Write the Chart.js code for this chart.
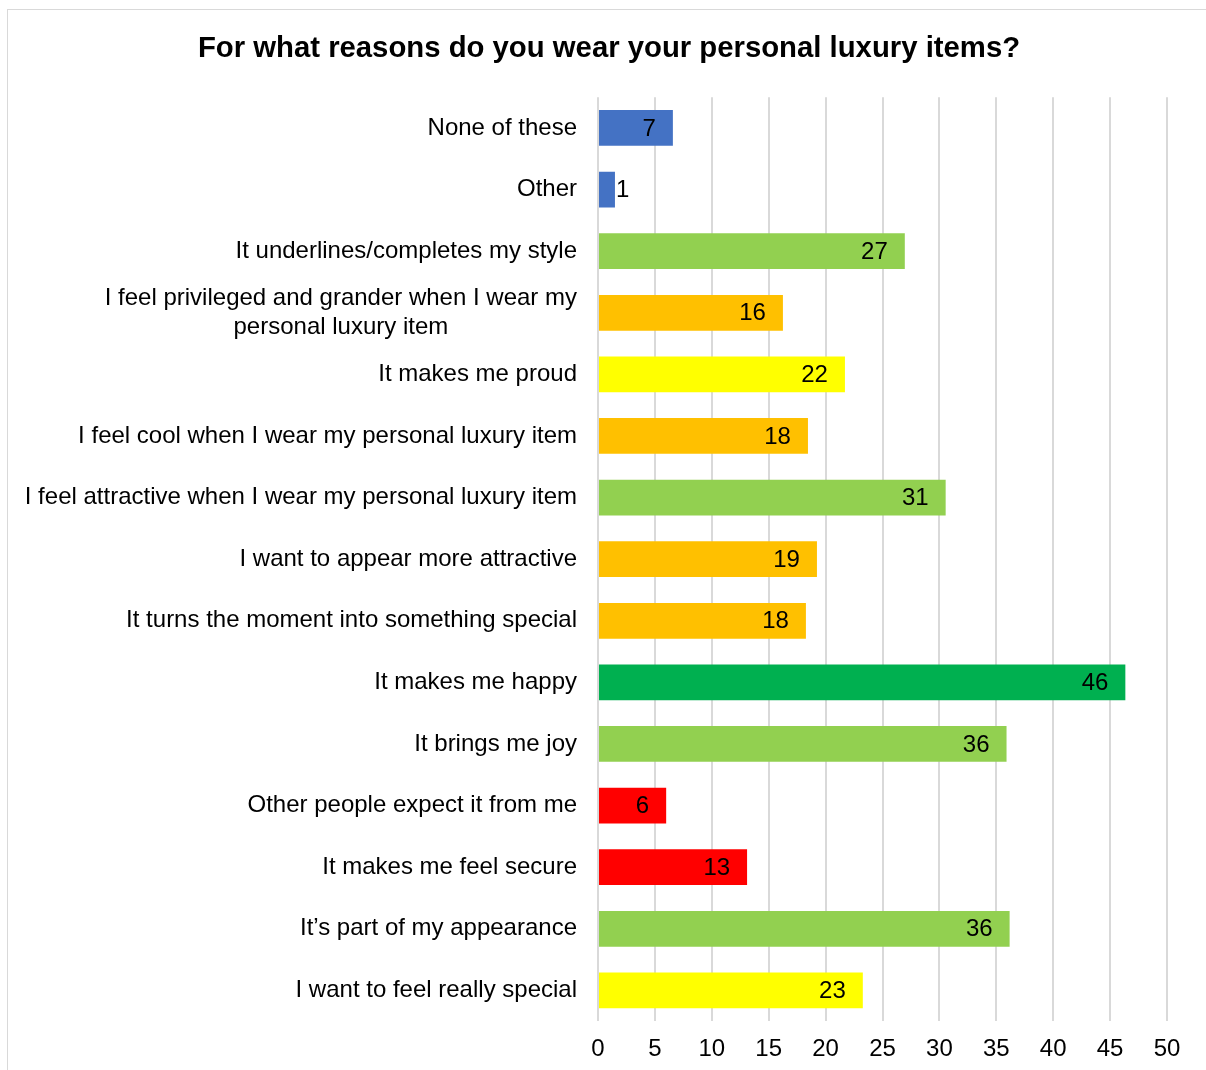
<!DOCTYPE html>
<html>
<head>
<meta charset="utf-8">
<script src="https://cdn.jsdelivr.net/npm/chart.js@4"></script>
<style>
  body { margin: 0; background: #fff; }
  #wrap { position: relative; width: 1206px; height: 1070px; }
  #frame { position: absolute; left: 7px; top: 9px; width: 1220px; height: 1100px; border: 1px solid #d9d9d9; box-sizing: border-box; }
  canvas { position: absolute; left: 0; top: 0; }
</style>
</head>
<body>
<div id="wrap">
  <div id="frame"></div>
  <canvas id="reasonsChart" width="1206" height="1070"></canvas>
</div>
<script>
// survey answers, top to bottom as shown
const reasons = [
  'None of these',
  'Other',
  'It underlines/completes my style',
  ['I feel privileged and grander when I wear my', 'personal luxury item'],
  'It makes me proud',
  'I feel cool when I wear my personal luxury item',
  'I feel attractive when I wear my personal luxury item',
  'I want to appear more attractive',
  'It turns the moment into something special',
  'It makes me happy',
  'It brings me joy',
  'Other people expect it from me',
  'It makes me feel secure',
  'It\u2019s part of my appearance',
  'I want to feel really special'
];
const shares = [6.58, 1.49, 26.96, 16.25, 21.7, 18.45, 30.55, 19.24, 18.27, 46.34, 35.9, 5.99, 13.1, 36.17, 23.27];
const barColors = [
  '#4472C4', '#4472C4', '#92D050', '#FFC000', '#FFFF00', '#FFC000', '#92D050', '#FFC000',
  '#FFC000', '#00B050', '#92D050', '#FF0000', '#FF0000', '#92D050', '#FFFF00'
];
const xTicks = [0, 5, 10, 15, 20, 25, 30, 35, 40, 45, 50];
const chartTitle = 'For what reasons do you wear your personal luxury items?';

const FONT = "'Liberation Sans', Arial, sans-serif";
const TITLE_SIZE = 29.3;

// value labels at the inner end of each bar (outside when the bar is too short)
const valueLabels = {
  id: 'valueLabels',
  afterDatasetsDraw(chart) {
    const ctx = chart.ctx;
    const meta = chart.getDatasetMeta(0);
    ctx.save();
    ctx.font = '24px ' + FONT;
    ctx.fillStyle = '#000';
    ctx.textBaseline = 'middle';
    meta.data.forEach((bar, i) => {
      const txt = String(Math.round(shares[i]));
      const w = ctx.measureText(txt).width;
      const len = bar.x - bar.base;
      if (len > w + 20) {
        ctx.textAlign = 'right';
        ctx.fillText(txt, bar.x - 17, bar.y + 1);
      } else {
        ctx.textAlign = 'left';
        ctx.fillText(txt, bar.x + 1, bar.y + 1);
      }
    });
    ctx.restore();
  }
};

// multi-line category label (lines centred on each other) and the title
const extraText = {
  id: 'extraText',
  afterDraw(chart) {
    const yScale = chart.scales.y;
    const ctx = chart.ctx;
    ctx.save();
    ctx.fillStyle = '#000';
    ctx.textBaseline = 'middle';
    ctx.textAlign = 'center';
    ctx.font = '24px ' + FONT;
    reasons.forEach((lab, i) => {
      if (!Array.isArray(lab)) return;
      const widest = Math.max(...lab.map(s => ctx.measureText(s).width));
      const cx = yScale.right - 21 - widest / 2;
      const cy = yScale.getPixelForValue(i);
      const lh = 28.8;
      lab.forEach((s, k) => {
        ctx.fillText(s, cx, cy + (k - (lab.length - 1) / 2) * lh);
      });
    });
    const tb = chart.titleBlock;
    ctx.font = 'bold ' + TITLE_SIZE + 'px ' + FONT;
    ctx.fillText(chartTitle, 609, tb.top + 19 + TITLE_SIZE * 0.6);
    ctx.restore();
  }
};

const ctx = document.getElementById('reasonsChart').getContext('2d');
new Chart(ctx, {
  type: 'bar',
  data: {
    labels: reasons,
    datasets: [{
      data: shares,
      backgroundColor: barColors,
      barPercentage: 0.58,
      categoryPercentage: 1
    }]
  },
  options: {
    indexAxis: 'y',
    responsive: false,
    animation: false,
    layout: { padding: { top: 12, left: 20, right: 39, bottom: -8 } },
    plugins: {
      legend: { display: false },
      tooltip: { enabled: false },
      title: {
        display: true,
        text: chartTitle,
        color: 'rgba(0,0,0,0)',
        font: { family: FONT, size: TITLE_SIZE, weight: 'bold' },
        padding: { top: 20, bottom: 30 }
      }
    },
    scales: {
      x: {
        min: 0,
        max: 50,
        afterBuildTicks: scale => { scale.ticks = xTicks.map(v => ({ value: v })); },
        grid: { color: '#d9d9d9', lineWidth: 2, drawTicks: false },
        border: { display: false },
        ticks: { color: '#000', font: { family: FONT, size: 24 }, padding: 14 }
      },
      y: {
        grid: { display: false, drawTicks: false },
        border: { display: false },
        afterFit: scale => { scale.width = 598 - 20; },
        ticks: {
          autoSkip: false,
          color: c => Array.isArray(reasons[c.index]) ? 'rgba(0,0,0,0)' : '#000',
          font: { family: FONT, size: 24 },
          padding: 21
        }
      }
    }
  },
  plugins: [valueLabels, extraText]
});
</script>
</body>
</html>
